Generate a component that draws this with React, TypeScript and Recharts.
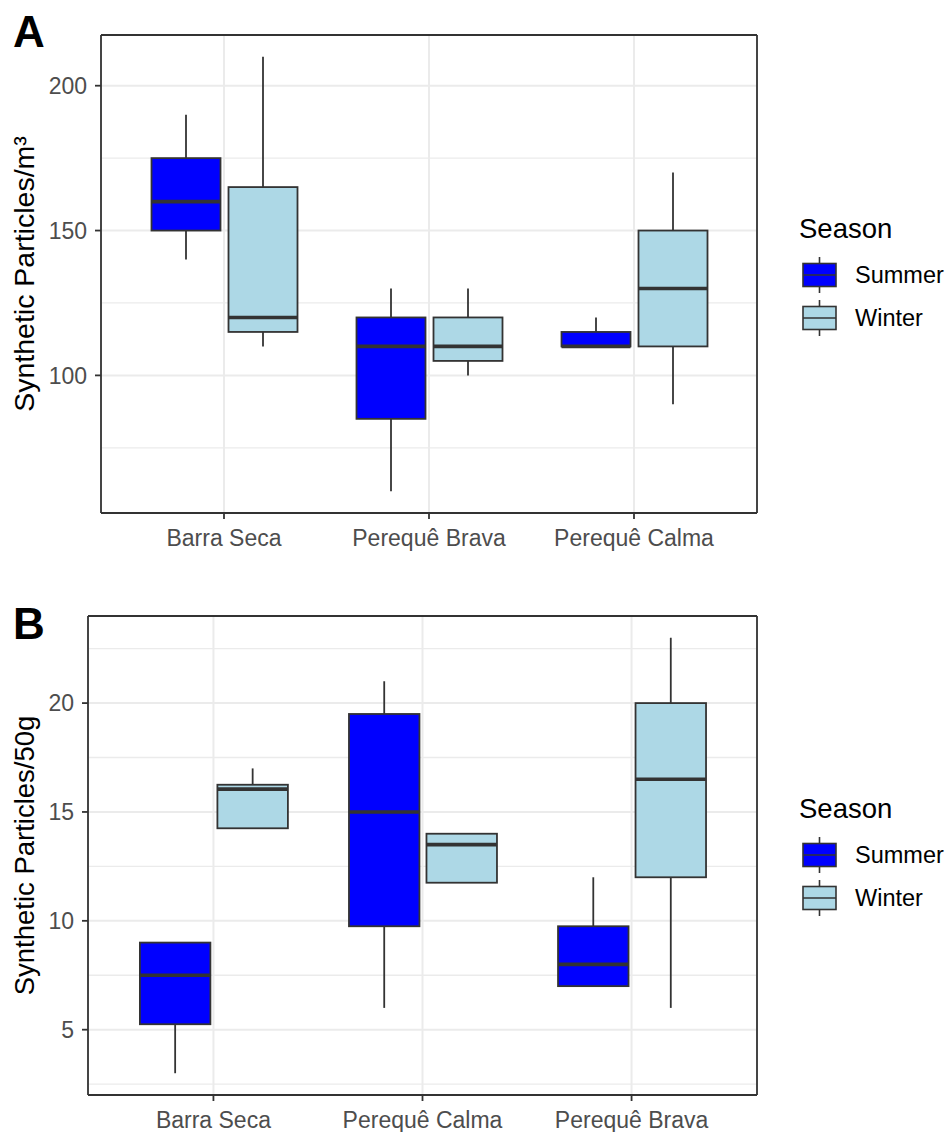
import React from 'react';
import { ComposedChart, Bar, XAxis, YAxis, CartesianGrid, Legend } from 'recharts';

const FONT = '"Liberation Sans", Arial, sans-serif';
const BLUE = '#0000FF';
const LIGHT = '#ADD8E6';
const LINE = '#333333';
const GRID = '#EBEBEB';
const TICK_TEXT = '#4D4D4D';

// ---------- Panel A : Synthetic Particles/m³ ----------
const sitesA = ['Barra Seca', 'Perequê Brava', 'Perequê Calma'];
const summerMinA = [140, 60, 110];
const summerQ1A = [150, 85, 110];
const summerMedA = [160, 110, 110];
const summerQ3A = [175, 120, 115];
const summerMaxA = [190, 130, 120];
const winterMinA = [110, 100, 90];
const winterQ1A = [115, 105, 110];
const winterMedA = [120, 110, 130];
const winterQ3A = [165, 120, 150];
const winterMaxA = [210, 130, 170];
const yTicksA = [100, 150, 200];
const yMinorA = [75, 125, 175];
const yDomainA: [number, number] = [52.5, 217.5];

// ---------- Panel B : Synthetic Particles/50g ----------
const sitesB = ['Barra Seca', 'Perequê Calma', 'Perequê Brava'];
const summerMinB = [3, 6, 7];
const summerQ1B = [5.25, 9.75, 7];
const summerMedB = [7.5, 15, 8];
const summerQ3B = [9, 19.5, 9.75];
const summerMaxB = [9, 21, 12];
const winterMinB = [14.25, 11.75, 6];
const winterQ1B = [14.25, 11.75, 12];
const winterMedB = [16.05, 13.5, 16.5];
const winterQ3B = [16.25, 14, 20];
const winterMaxB = [17, 14, 23];
const yTicksB = [5, 10, 15, 20];
const yMinorB = [2.5, 7.5, 12.5, 17.5, 22.5];
const yDomainB: [number, number] = [2, 24];

const seasons = ['Summer', 'Winter'];

type Stats = { min: number; q1: number; med: number; q3: number; max: number };

function buildRows(sites: string[], s: number[][], w: number[][]) {
  return sites.map((site, i) => {
    const summerStats: Stats = { min: s[0][i], q1: s[1][i], med: s[2][i], q3: s[3][i], max: s[4][i] };
    const winterStats: Stats = { min: w[0][i], q1: w[1][i], med: w[2][i], q3: w[3][i], max: w[4][i] };
    return {
      site,
      summer: [summerStats.min, summerStats.max],
      winter: [winterStats.min, winterStats.max],
      summerStats,
      winterStats,
    };
  });
}

const rowsA = buildRows(
  sitesA,
  [summerMinA, summerQ1A, summerMedA, summerQ3A, summerMaxA],
  [winterMinA, winterQ1A, winterMedA, winterQ3A, winterMaxA]
);
const rowsB = buildRows(
  sitesB,
  [summerMinB, summerQ1B, summerMedB, summerQ3B, summerMaxB],
  [winterMinB, winterQ1B, winterMedB, winterQ3B, winterMaxB]
);

function makeBoxShape(key: 'summerStats' | 'winterStats') {
  return (props: any) => {
    const { x, y, width, height, payload, fill } = props;
    const st: Stats = payload[key];
    const span = st.max - st.min;
    const py = (v: number) => (span === 0 ? y : y + ((st.max - v) / span) * height);
    const cx = x + width / 2;
    return (
      <g>
        <line x1={cx} x2={cx} y1={py(st.max)} y2={py(st.q3)} stroke={LINE} strokeWidth={1.8} />
        <line x1={cx} x2={cx} y1={py(st.q1)} y2={py(st.min)} stroke={LINE} strokeWidth={1.8} />
        <rect
          x={x}
          y={py(st.q3)}
          width={width}
          height={Math.max(py(st.q1) - py(st.q3), 0)}
          fill={fill}
          stroke={LINE}
          strokeWidth={1.8}
        />
        <line x1={x} x2={x + width} y1={py(st.med)} y2={py(st.med)} stroke={LINE} strokeWidth={3.6} />
      </g>
    );
  };
}

const SeasonLegend = (props: any) => {
  const payload = props.payload || [];
  return (
    <svg width={160} height={135} style={{ display: 'block', overflow: 'visible' }}>
      <text x={9} y={30} fontSize={27.5} fill="#000" fontFamily={FONT}>
        Season
      </text>
      {payload.map((p: any, i: number) => {
        const cy = 67 + i * 43;
        const cx = 29.5;
        const color = p.color || (p.payload && p.payload.fill);
        return (
          <g key={i}>
            <line x1={cx} x2={cx} y1={cy - 18} y2={cy + 18} stroke={LINE} strokeWidth={1.6} />
            <rect x={13} y={cy - 11.5} width={33} height={23} fill={color} stroke={LINE} strokeWidth={1.6} />
            <line x1={13} x2={46} y1={cy} y2={cy} stroke={LINE} strokeWidth={1.6} />
            <text x={65} y={cy} dy="0.36em" fontSize={23.5} fill="#000" fontFamily={FONT}>
              {p.value}
            </text>
          </g>
        );
      })}
    </svg>
  );
};

type PanelProps = {
  rows: any[];
  domain: [number, number];
  ticks: number[];
  minor: number[];
  title: string;
  titleSize: number;
  letter: string;
  letterY: number;
  plotTop: number;
  yAxisWidth: number;
  xAxisHeight: number;
  barSize: number;
  barGap: number;
  pad: number;
  legendTop: number;
};

function Panel(p: PanelProps) {
  const W = 952;
  const H = 566;
  const plotH = H - p.plotTop - p.xAxisHeight;
  const tickStyle = { fill: TICK_TEXT, fontSize: 23, fontFamily: FONT };
  const frame = { stroke: LINE, strokeWidth: 1.8 };
  const renderTitle = (lp: any) => {
    const vb = lp && lp.viewBox;
    const cy = vb && typeof vb.y === 'number' ? vb.y + vb.height / 2 : p.plotTop + plotH / 2;
    const bx = 34;
    return (
      <g>
        <text
          x={bx}
          y={cy}
          transform={`rotate(-90, ${bx}, ${cy})`}
          textAnchor="middle"
          fontSize={p.titleSize}
          fill="#000"
          fontFamily={FONT}
        >
          {p.title}
        </text>
        <text x={13} y={p.letterY} fontSize={44} fontWeight="bold" fill="#000" fontFamily={FONT}>
          {p.letter}
        </text>
      </g>
    );
  };
  return (
    <ComposedChart
      width={W}
      height={H}
      data={p.rows}
      margin={{ top: p.plotTop - 1, right: 194, bottom: 0, left: 0 }}
      barGap={p.barGap}
    >
      <CartesianGrid horizontalValues={p.minor} vertical={false} stroke={GRID} strokeWidth={1.3} />
      <CartesianGrid horizontalValues={p.ticks} stroke={GRID} strokeWidth={2} />
      <XAxis
        dataKey="site"
        type="category"
        height={p.xAxisHeight}
        padding={{ left: p.pad, right: p.pad }}
        axisLine={frame}
        tickLine={{ stroke: LINE, strokeWidth: 1.8 }}
        tickSize={6}
        tickMargin={11}
        tick={tickStyle}
        interval={0}
      />
      <XAxis
        xAxisId="frameTop"
        dataKey="site"
        type="category"
        orientation="top"
        height={1}
        padding={{ left: p.pad, right: p.pad }}
        axisLine={frame}
        tickLine={false}
        tick={false}
      />
      <YAxis
        type="number"
        domain={p.domain}
        ticks={p.ticks}
        allowDataOverflow
        width={p.yAxisWidth}
        axisLine={frame}
        tickLine={{ stroke: LINE, strokeWidth: 1.8 }}
        tickSize={6}
        tickMargin={8}
        tick={tickStyle}
        label={renderTitle}
      />
      <YAxis
        yAxisId="frameRight"
        type="number"
        orientation="right"
        domain={p.domain}
        allowDataOverflow
        width={1}
        axisLine={frame}
        tickLine={false}
        tick={false}
      />
      <Bar
        dataKey="summer"
        name={seasons[0]}
        fill={BLUE}
        barSize={p.barSize}
        shape={makeBoxShape('summerStats')}
        isAnimationActive={false}
      />
      <Bar
        dataKey="winter"
        name={seasons[1]}
        fill={LIGHT}
        barSize={p.barSize}
        shape={makeBoxShape('winterStats')}
        isAnimationActive={false}
      />
      <Legend
        layout="vertical"
        align="center"
        verticalAlign="middle"
        wrapperStyle={{ position: 'absolute', left: 790, top: p.legendTop, width: 160, height: 135 }}
        content={SeasonLegend}
      />
    </ComposedChart>
  );
}

export default function App() {
  return (
    <div style={{ position: 'absolute', left: 0, top: 0, width: 952, height: 1132, background: '#fff' }}>
      <div style={{ position: 'absolute', left: 0, top: 0 }}>
        <Panel
          rows={rowsA}
          domain={yDomainA}
          ticks={yTicksA}
          minor={yMinorA}
          title="Synthetic Particles/m³"
          titleSize={28.5}
          letter="A"
          letterY={47}
          plotTop={35}
          yAxisWidth={101}
          xAxisHeight={53}
          barSize={69}
          barGap={8}
          pad={20.5}
          legendTop={208}
        />
      </div>
      <div style={{ position: 'absolute', left: 0, top: 566 }}>
        <Panel
          rows={rowsB}
          domain={yDomainB}
          ticks={yTicksB}
          minor={yMinorB}
          title="Synthetic Particles/50g"
          titleSize={27.5}
          letter="B"
          letterY={73}
          plotTop={50}
          yAxisWidth={88}
          xAxisHeight={37}
          barSize={70.5}
          barGap={7}
          pad={20.9}
          legendTop={222}
        />
      </div>
    </div>
  );
}
